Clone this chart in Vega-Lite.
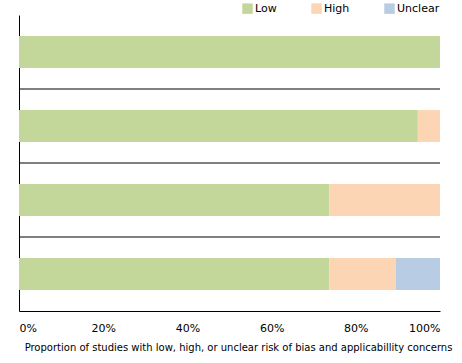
{
  "$schema": "https://vega.github.io/schema/vega-lite/v6.json",
  "width": 421,
  "height": 296,
  "autosize": {"type": "none"},
  "padding": {"left": 19, "top": 15, "right": 22, "bottom": 52},
  "background": "white",
  "config": {
    "view": {"stroke": null},
    "font": "DejaVu Sans"
  },
  "datasets": {
    "bars": [
      {"domain": "Patient selection", "risk": "Low", "rank": 1, "studies": 19},
      {"domain": "Index test", "risk": "Low", "rank": 1, "studies": 18},
      {"domain": "Index test", "risk": "High", "rank": 2, "studies": 1},
      {"domain": "Reference standard", "risk": "Low", "rank": 1, "studies": 14},
      {"domain": "Reference standard", "risk": "High", "rank": 2, "studies": 5},
      {"domain": "Flow and timing", "risk": "Low", "rank": 1, "studies": 14},
      {"domain": "Flow and timing", "risk": "High", "rank": 2, "studies": 3},
      {"domain": "Flow and timing", "risk": "Unclear", "rank": 3, "studies": 2}
    ],
    "separators": [
      {"domain": "Index test"},
      {"domain": "Reference standard"},
      {"domain": "Flow and timing"}
    ]
  },
  "layer": [
    {
      "data": {"name": "bars"},
      "mark": {"type": "bar", "height": {"band": 0.43}},
      "encoding": {
        "y": {
          "field": "domain",
          "type": "nominal",
          "sort": ["Patient selection", "Index test", "Reference standard", "Flow and timing"],
          "scale": {"paddingInner": 0, "paddingOuter": 0},
          "axis": {"labels": false, "ticks": false, "title": null, "domainColor": "black", "domainWidth": 1}
        },
        "x": {
          "field": "studies",
          "type": "quantitative",
          "stack": "normalize",
          "scale": {"domain": [0, 1], "nice": false},
          "axis": {
            "values": [0, 0.2, 0.4, 0.6, 0.8, 1],
            "format": "%",
            "grid": false,
            "ticks": false,
            "domainColor": "black",
            "domainWidth": 1,
            "labelFontSize": 11,
            "labelColor": "black",
            "labelPadding": 11,
            "title": "Proportion of studies with low, high, or unclear risk of bias and applicabillity concerns",
            "titleFontSize": 10,
            "titleFontWeight": "normal",
            "titleColor": "black",
            "titlePadding": 9,
            "titleX": 219
          }
        },
        "order": {"field": "rank", "type": "quantitative", "sort": "ascending"},
        "color": {
          "field": "risk",
          "type": "nominal",
          "sort": ["Low", "High", "Unclear"],
          "scale": {"domain": ["Low", "High", "Unclear"], "range": ["#C4D79B", "#FCD5B4", "#B8CCE4"]},
          "legend": {
            "title": null,
            "orient": "none",
            "direction": "horizontal",
            "legendX": 223,
            "legendY": -12,
            "symbolType": "square",
            "symbolSize": 110,
            "symbolStrokeWidth": 0,
            "labelFontSize": 11,
            "labelColor": "black",
            "labelOffset": 2,
            "columnPadding": 34
          }
        }
      }
    },
    {
      "data": {"name": "separators"},
      "mark": {"type": "rule", "color": "black", "strokeWidth": 1},
      "encoding": {
        "y": {
          "field": "domain",
          "type": "nominal",
          "sort": ["Patient selection", "Index test", "Reference standard", "Flow and timing"],
          "bandPosition": 0
        }
      }
    }
  ]
}
